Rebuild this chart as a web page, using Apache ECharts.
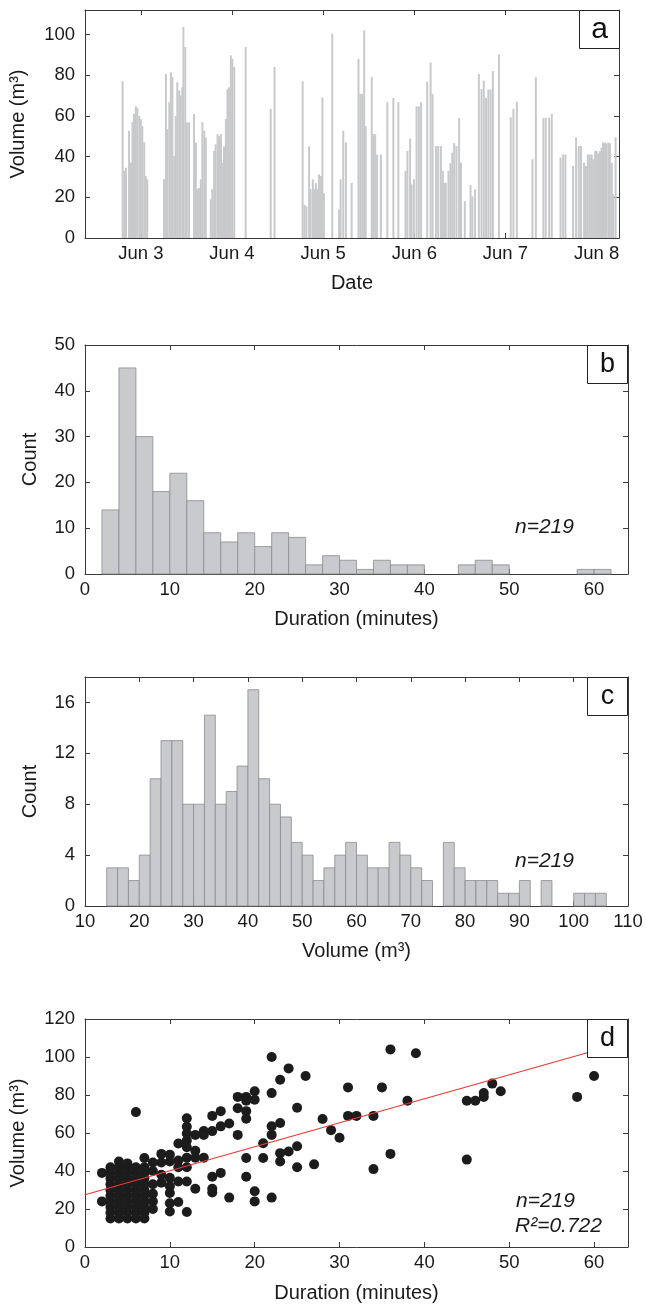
<!DOCTYPE html>
<html><head><meta charset="utf-8">
<script src="https://cdn.jsdelivr.net/npm/echarts@6/dist/echarts.min.js"></script>
<style>html,body{margin:0;padding:0;background:#fff}#c{width:646px;height:1313px}</style>
</head><body><div id="c"></div><script>
// ---------- Panel a: event volumes over time (hours since Jun 3 00:00) ----------
const dateTickHours = [0, 24, 48, 72, 96, 120];
const dateTickLabels = ['Jun 3', 'Jun 4', 'Jun 5', 'Jun 6', 'Jun 7', 'Jun 8'];
const eventHours = [
  -4.8,-4.4,-3.9,-3.1,-2.6,-2.2,-1.8,-1.3,-0.9,-0.4,0,0.4,0.9,1.3,1.7,
  6.1,6.6,7.0,7.5,7.9,8.3,8.8,9.2,9.6,10.1,10.4,10.9,11.2,11.7,12.1,12.7,
  14.0,14.5,14.9,15.3,15.8,16.2,16.7,17.1,
  18.4,18.8,19.3,19.7,20.2,20.6,21.1,21.5,21.9,22.4,22.8,23.2,23.7,24.1,24.6,
  27.6,34.2,35.2,
  42.6,43.1,43.6,44.3,44.7,45.3,45.7,46.1,46.6,46.9,47.4,47.8,48.2,
  50.4,52.2,52.6,53.3,54.0,55.5,
  57.3,57.8,58.3,58.8,59.2,
  60.8,61.2,61.7,62.2,63.2,
  64.9,66.5,67.8,
  69.7,70.2,70.9,71.3,71.9,72.6,73.2,73.8,
  75.4,76.3,76.8,77.7,78.3,79.0,79.5,79.9,80.3,81.0,81.5,82.0,82.5,83.1,83.8,84.3,
  85.3,86.8,87.3,88.0,
  89.0,89.7,90.3,90.9,91.5,92.1,92.7,94.3,
  97.4,98.1,99.0,
  103.1,104.0,
  106.0,106.6,107.5,108.2,
  110.5,111.2,111.8,
  113.8,114.6,115.3,115.9,116.7,117.2,117.7,118.2,118.7,119.1,119.6,120.0,120.4,120.9,121.3,121.7,122.2,122.6,123.1,123.5,124.0,124.4,125.0
];
const eventVolumes = [
  77,33,34.5,52.7,37,57,61,64.7,63.8,60,58.4,55,47,30.4,28.8,
  28.8,80.6,53.5,66.7,81.4,79,40.3,60,76.5,72.4,70,74,103.7,93.8,56.8,56.8,
  60.9,46.9,24,24.6,28.8,56.8,52.7,49.4,
  19,24,42.8,46,51,50,51,37,45,58.4,73,74,89.7,88,84,
  93.8,63.4,84,
  77,16.4,15.6,45,24,28.8,24,27,24,31.3,30.4,69,22,
  100.4,14,28.8,52.7,47,27,
  88,70.8,70.8,102,55,
  79,51,51,41,41,
  66.7,68.8,66.7,
  33,42.8,48.8,26.3,28.8,64.7,64.7,66.7,
  76.8,86.2,70.7,45.2,45.2,45.2,33,27.1,27.1,33,36.7,41.9,46.6,45.2,58.9,37,
  18.1,26,20.5,23.9,
  80.6,73.2,77.3,68.8,72.9,72.9,82,90.2,
  59.2,63.4,67,
  38.7,79,
  59,59,59,61,
  39.5,41.1,41,
  35.4,49.4,45.2,45.2,37,35.4,41,41,41,38.7,42.8,42.8,41.5,42.8,44.4,46.9,46.9,46.5,46.9,46.5,37,21.4,49.4
];

// ---------- Panel b: duration histogram (2-minute bins) ----------
const durationBinStarts = [2,4,6,8,10,12,14,16,18,20,22,24,26,28,30,32,34,36,38,40,42,44,46,48,50,52,54,56,58,60];
const durationCounts    = [14,45,30,18,22,16,9,7,9,6,9,8,2,4,3,1,3,2,2,0,0,2,3,2,0,0,0,0,1,1];
const durationBinWidth = 2;

// ---------- Panel c: volume histogram (2 m3 bins) ----------
const volumeBinStarts = [14,16,18,20,22,24,26,28,30,32,34,36,38,40,42,44,46,48,50,52,54,56,58,60,62,64,66,68,70,72,74,76,78,80,82,84,86,88,90,92,94,96,98,100,102,104];
const volumeCounts    = [3,3,2,4,10,13,13,8,8,15,8,9,11,17,10,8,7,5,4,2,3,4,5,4,3,3,5,4,3,2,0,5,3,2,2,2,1,1,2,0,2,0,0,1,1,1];
const volumeBinWidth = 2;

// ---------- Panel d: duration vs volume ----------
const scatterDuration = [
  6,22,24,26,23,22,20,19,18,20,19,18,19,19,16,15,17,16,15,14,14,13,12,12,12,12,11,12,13,13,14,12,12,11,11,10,10,9,9,8,7,7,8,9,9,10,10,10,10,10,11,12,11,12,13,15,15,15,16,17,18,19,19,20,20,21,21,22,22,23,22,23,23,24,25,25,25,27,28,29,30,31,31,32,34,35,36,39,38,36,34,45,46,47,47,48,49,45,58,60,
  2,2,
  3,3,3,3,3,3,3,3,3,3,
  4,4,4,4,4,4,4,4,4,4,4,
  5,5,5,5,5,5,5,5,5,5,5,
  6,6,6,6,6,6,6,6,6,6,
  7,7,7,7,7,7,7,7,7,
  8,8,8,8
];
const scatterVolume = [
  71,100,94,90,88,81,82,79,79,77.5,77,73,71.5,67.5,71.5,69,65,63.5,61,61,59,59,67.7,63.3,59.7,56,54.5,52.5,50.7,47,47,47,42,45.5,42,48.6,45,49,44.5,44.5,46.8,42,40,38,33.8,36.4,32,28.4,23,18.7,34.5,34.5,23.7,18.4,30.7,37,30.7,28.7,39,26,59,46.8,37,29.3,24,54.6,46.8,59,63.5,65.3,26,49.4,45,50.3,53,73.3,42,43.5,67.4,61.5,57.5,84,69,69,69,84,104,102,77,49,41,77,77,79,81,86,82,46,79,90,
  39,24,
  15,18,21,24,27,30,33,36,39,42,
  15,18,21,24,27,30,33,36,39,42,45,
  15,18,21,24,27,30,33,36,39,42,44,
  15,18,21,24,27,30,33,36,39,42,
  15,18,21,24,27,30,33,36,39,
  20,24,28,33
];
const fitDuration = [0, 64];
const fitVolume = [27.5, 108.3];

// ---------- chart ----------
const FONT = 'Liberation Sans, Arial, sans-serif';
const AX = '#3a3a3a';
const TICK_FS = 18.5, NAME_FS = 20;
const grids = [
  {left: 85, top: 10,   width: 534, height: 228},
  {left: 85, top: 345,  width: 543, height: 229},
  {left: 85, top: 677,  width: 543, height: 229},
  {left: 85, top: 1019, width: 543, height: 228}
];
function lbl(extra) {
  return Object.assign({color: '#1a1a1a', fontSize: TICK_FS, fontFamily: FONT, margin: 6}, extra || {});
}
function ylbl(extra) {
  return Object.assign({color: '#1a1a1a', fontSize: TICK_FS, fontFamily: FONT, margin: 10}, extra || {});
}
function baseAxis(extra) {
  return Object.assign({
    axisLine: {show: true, onZero: false, lineStyle: {color: AX, width: 1}},
    axisTick: {show: true, inside: true, length: 5, lineStyle: {color: AX}},
    splitLine: {show: false},
    axisLabel: lbl(),
    nameTextStyle: {color: '#1a1a1a', fontSize: NAME_FS, fontFamily: FONT},
    nameLocation: 'middle'
  }, extra);
}
const xAxes = [], yAxes = [];
function addAxes(gi, xCfg, yCfg) {
  xAxes.push(baseAxis(Object.assign({gridIndex: gi, type: 'value', position: 'bottom'}, xCfg)));
  const xt = Object.assign({gridIndex: gi, type: 'value', position: 'top'}, xCfg);
  delete xt.name;
  xAxes.push(baseAxis(xt));
  xAxes[xAxes.length-1].axisLabel = {show: false};
  yAxes.push(baseAxis(Object.assign({gridIndex: gi, type: 'value', position: 'left'}, yCfg)));
  const yr = Object.assign({gridIndex: gi, type: 'value', position: 'right'}, yCfg);
  delete yr.name;
  yAxes.push(baseAxis(yr));
  yAxes[yAxes.length-1].axisLabel = {show: false};
}
const tickStyle = {show: true, inside: true, length: 5, lineStyle: {color: AX}};
// a
addAxes(0,
  {min: -14.7, max: 125.9, name: 'Date', nameGap: 35,
   axisTick: Object.assign({customValues: dateTickHours}, tickStyle),
   axisLabel: lbl({customValues: dateTickHours, formatter: v => dateTickLabels[dateTickHours.indexOf(v)]})},
  {min: 0, max: 112, interval: 20, name: 'Volume (m³)', nameGap: 57, axisLabel: ylbl({showMaxLabel: false})});
// b
addAxes(1,
  {min: 0, max: 64, interval: 10, name: 'Duration (minutes)', nameGap: 35, axisLabel: lbl({showMaxLabel: false})},
  {min: 0, max: 50, interval: 10, name: 'Count', nameGap: 45, axisLabel: ylbl()});
// c
addAxes(2,
  {min: 10, max: 110, interval: 10, name: 'Volume (m³)', nameGap: 35},
  {min: 0, max: 18, interval: 4, name: 'Count', nameGap: 45, axisLabel: ylbl({showMaxLabel: false})});
// d
addAxes(3,
  {min: 0, max: 64, interval: 10, name: 'Duration (minutes)', nameGap: 36, axisLabel: lbl({showMaxLabel: false})},
  {min: 0, max: 120, interval: 20, name: 'Volume (m³)', nameGap: 57, axisLabel: ylbl()});

function histItem(params, api) {
  const x0 = api.value(0), x1 = api.value(1), c = api.value(2);
  if (!c) return null;
  const p0 = api.coord([x0, 0]);
  const p1 = api.coord([x1, c]);
  return {type: 'rect', shape: {x: p0[0], y: p1[1], width: p1[0] - p0[0], height: p0[1] - p1[1]},
    style: {fill: '#c9cacd', stroke: '#8c8c8c', lineWidth: 0.8}};
}
const eventData = eventHours.map((h, i) => [h, eventVolumes[i]]);
const durData = durationBinStarts.map((s, i) => [s, s + durationBinWidth, durationCounts[i]]);
const volData = volumeBinStarts.map((s, i) => [s, s + volumeBinWidth, volumeCounts[i]]);
const scData = scatterDuration.map((d, i) => [d, scatterVolume[i]]);
const fitData = fitDuration.map((d, i) => [d, fitVolume[i]]);

function labelBox(letter, x, y, fs) {
  return [
    {type: 'rect', shape: {x: x, y: y, width: 40, height: 38}, style: {fill: '#fff', stroke: '#222', lineWidth: 1}, z: 100},
    {type: 'text', x: x + 20, y: y + 19, style: {text: letter, fontSize: fs, fontFamily: FONT, fill: '#111', align: 'center', verticalAlign: 'middle'}, z: 101}
  ];
}
function note(text, x, y) {
  return {type: 'text', x: x, y: y, style: {text: text, fontSize: 21, fontStyle: 'italic', fontFamily: FONT, fill: '#1a1a1a', align: 'left', verticalAlign: 'middle'}, z: 101};
}

const option = {
  animation: false,
  backgroundColor: '#fff',
  grid: grids,
  xAxis: xAxes,
  yAxis: yAxes,
  series: [
    {type: 'bar', xAxisIndex: 0, yAxisIndex: 0, data: eventData, barWidth: 2, itemStyle: {color: '#c8c9cb'}},
    {type: 'custom', xAxisIndex: 2, yAxisIndex: 2, data: durData, renderItem: histItem, encode: {x: [0, 1], y: 2}},
    {type: 'custom', xAxisIndex: 4, yAxisIndex: 4, data: volData, renderItem: histItem, encode: {x: [0, 1], y: 2}},
    {type: 'scatter', xAxisIndex: 6, yAxisIndex: 6, data: scData, symbolSize: 10, itemStyle: {color: '#1c1c1c', opacity: 1}},
    {type: 'line', xAxisIndex: 6, yAxisIndex: 6, data: fitData, symbol: 'none', z: 5, lineStyle: {color: '#e83a34', width: 1.2}}
  ],
  graphic: [].concat(
    labelBox('a', 579.5, 10.5, 30),
    labelBox('b', 587.5, 345.5, 27),
    labelBox('c', 587.5, 677.5, 27),
    labelBox('d', 587.5, 1019.5, 27),
    [note('n=219', 515, 527), note('n=219', 515, 861), note('n=219', 516, 1201), note('R²=0.722', 515, 1226)]
  )
};
const chart = echarts.init(document.getElementById('c'), null, {renderer: 'canvas'});
chart.setOption(option);
</script></body></html>
